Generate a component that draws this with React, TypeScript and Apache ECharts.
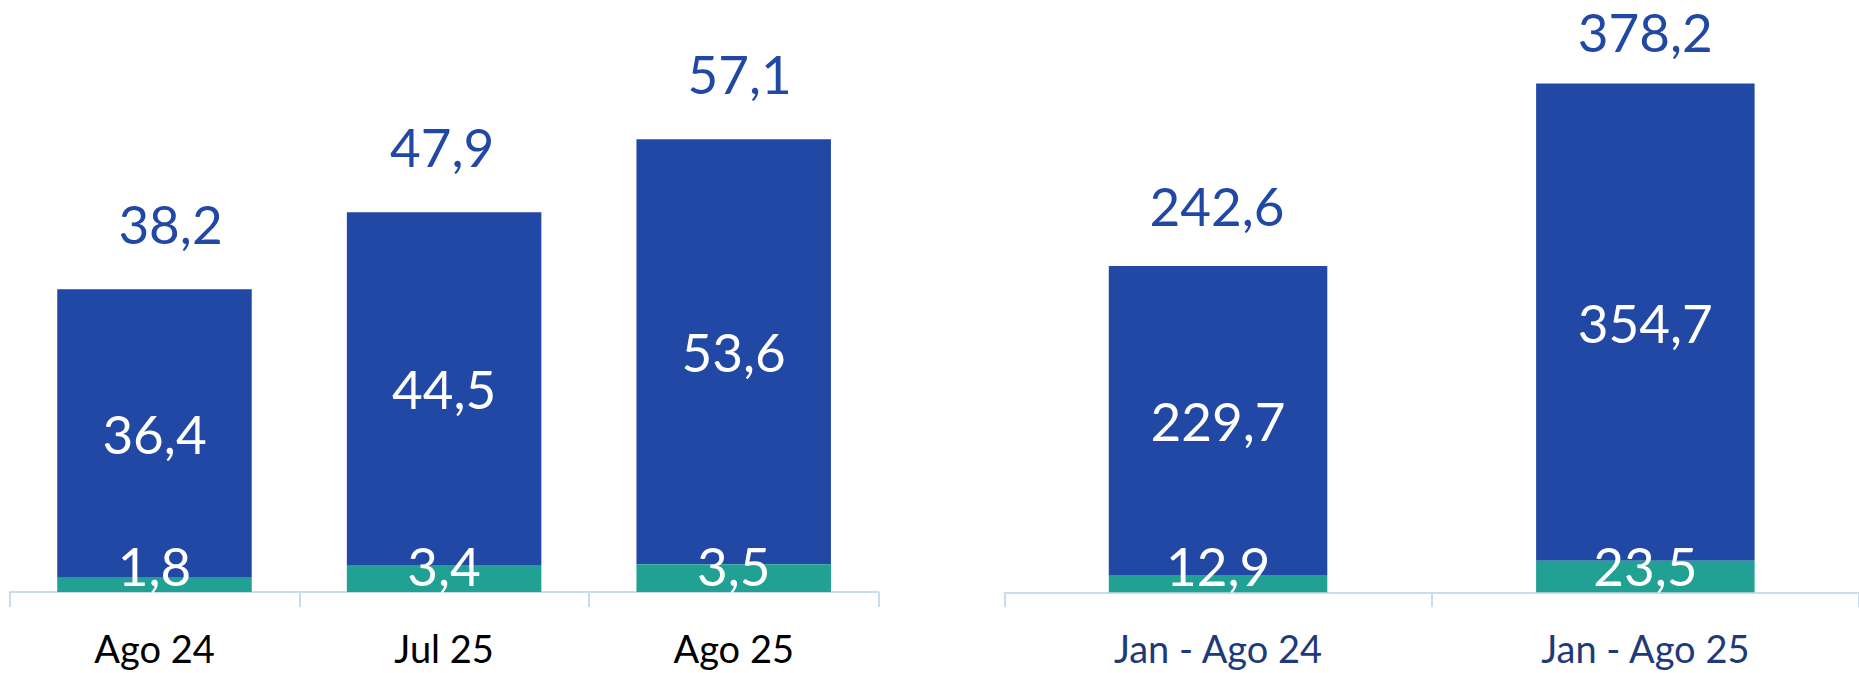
import React, { useEffect, useRef } from "react";
import * as echarts from "echarts";

// Left chart (monthly)
const monthCategories = ["Ago 24", "Jul 25", "Ago 25"];
const monthGreen = [1.8, 3.4, 3.5];
const monthBlue = [36.4, 44.5, 53.6];
const monthTotals = [38.2, 47.9, 57.1];
const monthTotalLabelShift = [[16, 0], [-2, 0], [6, 0]];

// Right chart (year to date)
const ytdCategories = ["Jan - Ago 24", "Jan - Ago 25"];
const ytdGreen = [12.9, 23.5];
const ytdBlue = [229.7, 354.7];
const ytdTotals = [242.6, 378.2];
const ytdTotalLabelShift = [[-1, -4], [0, 5]];

const BLUE = "#2248A6";
const GREEN = "#21A094";
const AXIS = "#C9DDF2";
const FONT = "Lato";

const fmt = (p: any) => Number(p.value).toFixed(1).replace(".", ",");

export default function App() {
  const ref = useRef<HTMLDivElement>(null);
  useEffect(() => {
    if (!ref.current) return;
    const chart = echarts.init(ref.current, null, { renderer: "svg" });
    const valueLabel = { fontFamily: FONT, fontSize: 53, lineHeight: 53, formatter: fmt };
    const makeX = (gridIndex: number, data: string[], color: string) => ({
      type: "category",
      gridIndex,
      data,
      boundaryGap: true,
      axisLine: { show: true, lineStyle: { color: AXIS, width: 2 } },
      axisTick: { show: true, length: 15, lineStyle: { color: AXIS, width: 2 } },
      axisLabel: { color, fontFamily: FONT, fontSize: 38, lineHeight: 38, margin: 37 },
    });
    const makeSeries = (
      idx: number,
      green: number[],
      blue: number[],
      totals: number[],
      shifts: number[][],
      barWidth: number,
      topDist: number
    ) => [
      {
        type: "bar",
        xAxisIndex: idx,
        yAxisIndex: idx,
        stack: "s" + idx,
        barWidth,
        data: green,
        itemStyle: { color: GREEN },
        label: { show: true, position: "insideBottom", distance: 0, color: "#fff", ...valueLabel },
        z: 3,
      },
      {
        type: "bar",
        xAxisIndex: idx,
        yAxisIndex: idx,
        stack: "s" + idx,
        barWidth,
        data: blue,
        itemStyle: { color: BLUE },
        label: { show: true, position: "inside", color: "#fff", ...valueLabel },
        z: 2,
      },
      {
        type: "bar",
        xAxisIndex: idx,
        yAxisIndex: idx,
        barWidth,
        barGap: "-100%",
        data: totals.map((v, i) => ({ value: v, label: { offset: shifts[i] } })),
        itemStyle: { color: "rgba(0,0,0,0)" },
        label: {
          show: true,
          position: "top",
          distance: topDist,
          color: BLUE,
          ...valueLabel,
          lineHeight: 40,
        },
        z: 1,
        silent: true,
      },
    ];
    chart.setOption({
      animation: false,
      grid: [
        { left: 9.7, top: 0, width: 868.8, height: 592 },
        { left: 1004.4, top: 0, width: 867.2, height: 592.3 },
      ],
      xAxis: [makeX(0, monthCategories, "#000000"), makeX(1, ytdCategories, "#1F3A7A")],
      yAxis: [
        { type: "value", gridIndex: 0, min: 0, max: 74.67, show: false, splitLine: { show: false } },
        { type: "value", gridIndex: 1, min: 0, max: 440.2, show: false, splitLine: { show: false } },
      ],
      series: [
        ...makeSeries(0, monthGreen, monthBlue, monthTotals, monthTotalLabelShift, 194.5, 45.5),
        ...makeSeries(1, ytdGreen, ytdBlue, ytdTotals, ytdTotalLabelShift, 218.5, 36.5),
      ],
    });
    return () => chart.dispose();
  }, []);
  return (
    <div
      ref={ref}
      style={{ position: "absolute", left: 0, top: 0, width: 1859, height: 673 }}
    />
  );
}
